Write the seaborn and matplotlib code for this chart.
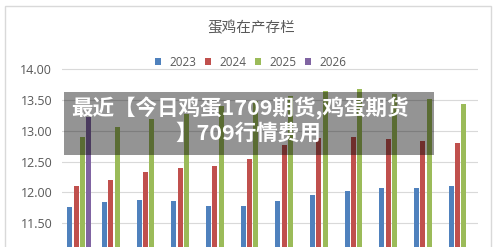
import numpy as np
import pandas as pd
import matplotlib
matplotlib.use("Agg")
import matplotlib.pyplot as plt
import seaborn as sns
from matplotlib.patches import Rectangle, Patch

# ---- data ----
months = ["1月", "2月", "3月", "4月", "5月", "6月", "7月", "8月", "9月", "10月", "11月", "12月"]
years = ["2023", "2024", "2025", "2026"]
v2023 = [11.76, 11.84, 11.87, 11.85, 11.78, 11.77, 11.86, 11.95, 12.02, 12.07, 12.07, 12.10]
v2024 = [12.11, 12.20, 12.33, 12.40, 12.43, 12.55, 12.77, 12.88, 12.90, 12.87, 12.84, 12.80]
v2025 = [12.90, 13.06, 13.19, 13.27, 13.40, 13.48, 13.56, 13.65, 13.68, 13.60, 13.52, 13.44]
v2026 = [13.23, None, None, None, None, None, None, None, None, None, None, None]
ytick_values = [11.50, 12.00, 12.50, 13.00, 13.50, 14.00]
ytick_labels = ["11.50", "12.00", "12.50", "13.00", "13.50", "14.00"]
title = "蛋鸡在产存栏"
overlay_line1 = "最近【今日鸡蛋1709期货,鸡蛋期货"
overlay_line2 = "】709行情费用"

palette = ["#4f81bd", "#c0504d", "#9bbb59", "#8064a2"]

rows = []
for yr, vals in zip(years, [v2023, v2024, v2025, v2026]):
    for m, v in zip(months, vals):
        if v is not None:
            rows.append({"month": m, "year": yr, "value": v})
df = pd.DataFrame(rows)

fig = plt.figure(figsize=(5, 2.47), dpi=100)
fig.patch.set_facecolor("white")
ax = fig.add_axes([0.124, 0.0, 0.832, 0.7312])

sns.barplot(data=df, x="month", y="value", hue="year", order=months,
            hue_order=years, palette=palette, saturation=1, errorbar=None,
            width=0.73, gap=0.2, legend=False, ax=ax)

ax.set_ylim(11.109, 14.05)
ax.set_yticks(ytick_values)
ax.set_yticklabels(ytick_labels)
ax.set_xticks([])
ax.set_xlabel("")
ax.set_ylabel("")
for s in ax.spines.values():
    s.set_visible(False)
ax.yaxis.grid(True, color="#d9d9d9", lw=0.8)
ax.set_axisbelow(True)
ax.tick_params(axis="y", length=0, pad=7, labelsize=9, labelcolor="#595959")
for t in ax.get_yticklabels():
    t.set_family("Open Sans")
ax.set_facecolor("white")

# title
fig.text(0.502, 1 - 28 / 247, title, ha="center", va="center", fontsize=10.5,
         color="#595959", family=["Noto Sans CJK SC", "DejaVu Sans"])

# legend
handles = [Patch(facecolor=c, edgecolor="none", label=y) for c, y in zip(palette, years)]
leg = fig.legend(handles=handles, ncol=4, loc="center",
                 bbox_to_anchor=(0.501, 1 - 62 / 247), frameon=False,
                 prop={"family": "Open Sans", "size": 8.5},
                 handlelength=0.55, handleheight=0.55, handletextpad=0.7,
                 columnspacing=0.7, borderpad=0)
for t in leg.get_texts():
    t.set_color("#595959")

# chart border
fig.add_artist(Rectangle((5 / 500, -0.1), 486 / 500, 1.1 - 6 / 247,
                         transform=fig.transFigure, fill=False,
                         edgecolor="#d9d9d9", lw=1))

# overlay band
fig.add_artist(Rectangle((64 / 500, 1 - 155 / 247), 370 / 500, 63 / 247,
                         transform=fig.transFigure, facecolor="black",
                         alpha=0.42, edgecolor="none", zorder=10))
cjk = ["Noto Sans CJK SC", "DejaVu Sans"]
fig.text(240 / 500, 1 - 108.5 / 247, overlay_line1, ha="center", va="center",
         color="white", fontweight="bold", fontsize=15.5, family=cjk, zorder=11)
fig.text(248 / 500, 1 - 133 / 247, overlay_line2, ha="center", va="center",
         color="white", fontweight="bold", fontsize=15.5, family=cjk, zorder=11)

fig.savefig("out.png", dpi=100)
